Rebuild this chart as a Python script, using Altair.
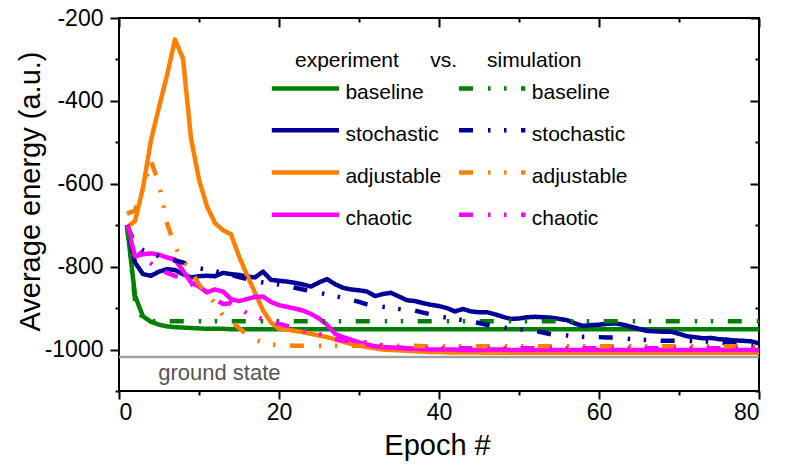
import altair as alt
import pandas as pd

FONT = "Liberation Sans"

epochs = list(range(1, 81))
series_names = ["baseline", "stochastic", "adjustable", "chaotic"]
series_colors = ["#008000", "#000096", "#FF8000", "#FF00FF"]
kinds = ["experiment", "simulation"]
ground_state = -1018

baseline_exp = [
    -700, -870, -920, -933, -940, -944, -946, -947, -948, -949,
    -950, -950, -950, -951, -951, -951, -951, -951, -951, -951,
    -951, -951, -951, -951, -951, -951, -951, -951, -951, -951,
    -951, -951, -951, -951, -951, -951, -951, -951, -951, -951,
    -951, -951, -951, -951, -951, -951, -951, -951, -951, -951,
    -951, -951, -951, -951, -951, -951, -951, -951, -951, -951,
    -951, -951, -951, -951, -951, -951, -951, -951, -951, -951,
    -951, -951, -951, -951, -951, -951, -951, -951, -951, -951,
]
baseline_sim = [
    -700, -880, -930, -931, -932, -932, -932, -932, -932, -932,
    -932, -932, -932, -932, -932, -932, -932, -932, -932, -932,
    -932, -932, -932, -932, -932, -932, -932, -932, -932, -932,
    -932, -932, -932, -932, -932, -932, -932, -932, -932, -932,
    -932, -932, -932, -932, -932, -932, -932, -932, -932, -932,
    -932, -932, -932, -932, -932, -932, -932, -932, -932, -932,
    -932, -932, -932, -932, -932, -932, -932, -932, -932, -932,
    -932, -932, -932, -932, -932, -932, -932, -932, -932, -932,
]
stochastic_exp = [
    -700, -790, -818, -822, -812, -806, -808, -818, -826, -823,
    -822, -823, -815, -818, -820, -824, -826, -812, -832, -834,
    -836, -839, -843, -848, -838, -830, -842, -851, -855, -857,
    -860, -871, -866, -863, -872, -881, -883, -888, -892, -895,
    -900, -908, -902, -908, -910, -910, -915, -921, -926, -925,
    -922, -921, -922, -923, -926, -929, -937, -943, -941, -940,
    -938, -937, -940, -945, -950, -955, -956, -957, -957, -962,
    -968, -970, -973, -972, -975, -976, -978, -979, -980, -985,
]
stochastic_sim = [
    -700, -745, -760, -767, -775, -781, -785, -790, -798, -804,
    -807, -811, -815, -820, -825, -830, -835, -838, -841, -843,
    -847, -851, -855, -859, -863, -867, -871, -875, -880, -885,
    -891, -895, -897, -899, -902, -904, -906, -911, -915, -920,
    -923, -926, -929, -932, -936, -940, -944, -947, -949, -951,
    -952, -955, -959, -963, -965, -966, -968, -969, -969, -970,
    -971, -971, -973, -975, -976, -977, -978, -979, -979, -979,
    -979, -980, -980, -981, -983, -985, -987, -989, -990, -990,
]
adjustable_exp = [
    -705, -690, -610, -495, -415, -338, -252, -298, -490, -590,
    -655, -695, -712, -722, -775, -820, -863, -905, -935, -950,
    -952, -955, -958, -962, -966, -970, -975, -981, -986, -990,
    -994, -997, -1000, -1001, -1002, -1003, -1004, -1005, -1006, -1006,
    -1007, -1007, -1007, -1007, -1007, -1008, -1008, -1008, -1008, -1008,
    -1008, -1008, -1008, -1008, -1008, -1008, -1008, -1008, -1008, -1008,
    -1008, -1008, -1008, -1008, -1008, -1008, -1008, -1008, -1008, -1008,
    -1008, -1008, -1008, -1008, -1008, -1008, -1008, -1008, -1008, -1008,
]
adjustable_sim = [
    -672, -665, -610, -545, -600, -695, -751, -785, -810, -843,
    -868, -887, -918, -932, -948, -964, -976, -983, -987, -990,
    -990, -991, -991, -991, -991, -991, -991, -991, -991, -991,
    -991, -991, -991, -991, -991, -991, -991, -992, -992, -992,
    -992, -992, -992, -992, -992, -992, -992, -992, -992, -992,
    -992, -992, -992, -992, -992, -992, -992, -992, -992, -992,
    -992, -992, -992, -992, -992, -992, -992, -992, -992, -992,
    -992, -992, -992, -992, -992, -992, -992, -992, -992, -992,
]
chaotic_exp = [
    -700, -775, -770, -768, -771, -778, -783, -810, -838, -848,
    -862, -855, -860, -878, -883, -878, -873, -872, -885, -893,
    -897, -901, -906, -914, -925, -940, -962, -970, -976, -983,
    -988, -992, -994, -995, -996, -997, -998, -999, -1000, -1000,
    -1000, -1000, -1001, -1001, -1001, -1000, -1000, -1000, -1001, -1001,
    -1001, -1001, -1001, -1001, -1001, -1001, -1001, -1001, -1001, -1001,
    -1001, -1001, -1001, -1001, -1001, -1001, -1001, -1001, -1001, -1001,
    -1001, -1001, -1001, -1001, -1001, -1001, -1001, -1001, -1001, -1001,
]
chaotic_sim = [
    -700, -750, -775, -792, -806, -815, -822, -832, -842, -852,
    -862, -878, -890, -888, -900, -912, -920, -927, -932, -938,
    -943, -948, -955, -958, -962, -968, -975, -978, -980, -981,
    -983, -986, -990, -993, -995, -997, -997, -997, -997, -997,
    -997, -997, -997, -997, -997, -997, -997, -997, -997, -997,
    -997, -997, -997, -997, -997, -997, -997, -997, -997, -997,
    -997, -997, -997, -997, -997, -997, -997, -997, -997, -997,
    -997, -997, -997, -997, -997, -997, -997, -997, -997, -997,
]

values = {
    ("baseline", "experiment"): baseline_exp,
    ("baseline", "simulation"): baseline_sim,
    ("stochastic", "experiment"): stochastic_exp,
    ("stochastic", "simulation"): stochastic_sim,
    ("adjustable", "experiment"): adjustable_exp,
    ("adjustable", "simulation"): adjustable_sim,
    ("chaotic", "experiment"): chaotic_exp,
    ("chaotic", "simulation"): chaotic_sim,
}

rows = []
for (s, k), vals in values.items():
    for e, v in zip(epochs, vals):
        rows.append({"epoch": e, "energy": v, "series": s, "kind": k})
df = pd.DataFrame(rows)
df_exp = df[df.kind == "experiment"]
df_sim = df[df.kind == "simulation"]

# legend (placed in data coordinates inside the plot)
leg_rows_y = [-370, -471, -573, -675]
leg_rows = []
for s, yv in zip(series_names, leg_rows_y):
    leg_rows.append({"series": s, "kind": "experiment", "x1": 19.1, "x2": 27.5, "y": yv, "tx": 28.3})
    leg_rows.append({"series": s, "kind": "simulation", "x1": 42.5, "x2": 50.8, "y": yv, "tx": 51.6})
df_leg = pd.DataFrame(leg_rows)
df_leg["ty"] = df_leg["y"] - 11

df_head = pd.DataFrame({"label": ["experiment", "vs.", "simulation"],
                        "x": [22.0, 38.9, 46.0], "y": [-318, -318, -318]})
df_ground = pd.DataFrame({"epoch": [0, 80], "energy": [ground_state, ground_state]})
df_gtext = pd.DataFrame({"label": ["ground state"], "x": [4.9], "y": [-1074]})

xs = alt.Scale(domain=[0, 80], nice=False, zero=False)
ys = alt.Scale(domain=[-1100, -200], nice=False, zero=False)
color_scale = alt.Scale(domain=series_names, range=series_colors)
dash_scale = alt.Scale(domain=kinds, range=[[1, 0], [14, 15, 2.5, 13.5, 2.5, 14.5]])

x_bottom = alt.Axis(
    values=list(range(0, 81, 10)),
    labelExpr="datum.value % 20 === 0 ? '' + datum.value : ''",
    tickSize={"condition": {"test": "datum.value % 20 === 0", "value": 8}, "value": 4},
    tickWidth=2, tickColor="black", domain=False, grid=False,
    labelFont=FONT, labelFontSize=23, labelColor="black", labelPadding=2,
    title="Epoch #", titleFont=FONT, titleFontSize=29, titleFontWeight="normal",
    titleColor="black", titleX=318, titleY=63, titleBaseline="alphabetic", titleAlign="center",
)
y_left = alt.Axis(
    values=list(range(-1100, -199, 100)),
    labelExpr="datum.value % 200 === 0 ? '' + datum.value : ''",
    tickSize={"condition": {"test": "datum.value % 200 === 0", "value": 9}, "value": 4},
    tickWidth=2, tickColor="black", domain=False, grid=False,
    labelFont=FONT, labelFontSize=23, labelColor="black", labelPadding=7,
    title="Average energy (a.u.)", titleFont=FONT, titleFontSize=29, titleFontWeight="normal",
    titleColor="black", titleX=-89, titleY=173, titleBaseline="middle", titleAlign="center",
)
x_top = alt.Axis(
    orient="top", values=list(range(0, 81, 10)), labels=False, title=None,
    domain=False, grid=False, offset=-9, tickSize=9, tickWidth=2, tickColor="black",
    tickDash={"condition": {"test": "datum.value % 20 === 0", "value": [20, 0]}, "value": [0, 5, 4, 20]},
)
y_right = alt.Axis(
    orient="right", values=list(range(-1100, -199, 100)), labels=False, title=None,
    domain=False, grid=False, offset=-9, tickSize=9, tickWidth=2, tickColor="black",
    tickDash={"condition": {"test": "datum.value % 200 === 0", "value": [20, 0]}, "value": [0, 5, 4, 20]},
)

ground = alt.Chart(df_ground).mark_line(color="#A0A0A0", strokeWidth=2.5).encode(
    x=alt.X("epoch:Q", scale=xs, axis=x_top),
    y=alt.Y("energy:Q", scale=ys, axis=y_right),
)

exp_lines = alt.Chart(df_exp).mark_line(strokeWidth=4.5, strokeCap="butt", strokeJoin="round").encode(
    x=alt.X("epoch:Q", scale=xs, axis=x_bottom),
    y=alt.Y("energy:Q", scale=ys, axis=y_left),
    color=alt.Color("series:N", scale=color_scale, legend=None),
    strokeDash=alt.StrokeDash("kind:N", scale=dash_scale, legend=None),
)
sim_lines = alt.Chart(df_sim).mark_line(strokeWidth=4.5, strokeCap="butt", strokeJoin="round").encode(
    x=alt.X("epoch:Q", scale=xs, axis=None),
    y=alt.Y("energy:Q", scale=ys, axis=None),
    color=alt.Color("series:N", scale=color_scale, legend=None),
    strokeDash=alt.StrokeDash("kind:N", scale=dash_scale, legend=None),
)

leg_lines = alt.Chart(df_leg).mark_rule(strokeWidth=4.5, strokeCap="butt").encode(
    x=alt.X("x1:Q", scale=xs, axis=None),
    x2="x2:Q",
    y=alt.Y("y:Q", scale=ys, axis=None),
    color=alt.Color("series:N", scale=color_scale, legend=None),
    strokeDash=alt.StrokeDash("kind:N", scale=dash_scale, legend=None),
)
leg_text = alt.Chart(df_leg).mark_text(
    align="left", baseline="middle", font=FONT, fontSize=21, color="black"
).encode(
    x=alt.X("tx:Q", scale=xs, axis=None),
    y=alt.Y("ty:Q", scale=ys, axis=None),
    text="series:N",
)
head_text = alt.Chart(df_head).mark_text(
    align="left", baseline="alphabetic", font=FONT, fontSize=21, color="black"
).encode(
    x=alt.X("x:Q", scale=xs, axis=None),
    y=alt.Y("y:Q", scale=ys, axis=None),
    text="label:N",
)
gtext = alt.Chart(df_gtext).mark_text(
    align="left", baseline="alphabetic", font=FONT, fontSize=22, color="#555555"
).encode(
    x=alt.X("x:Q", scale=xs, axis=None),
    y=alt.Y("y:Q", scale=ys, axis=None),
    text="label:N",
)

chart = alt.layer(
    ground, exp_lines, sim_lines, leg_lines, leg_text, head_text, gtext
).resolve_axis(
    x="independent", y="independent"
).properties(
    width=640, height=373,
    autosize=alt.AutoSizeParams(type="none"),
    padding={"left": 119, "top": 18, "right": 27, "bottom": 75},
    background="white",
).configure_view(
    stroke="black", strokeWidth=2
)

chart.save("out.html", embed_options={"renderer": "svg", "actions": False})
